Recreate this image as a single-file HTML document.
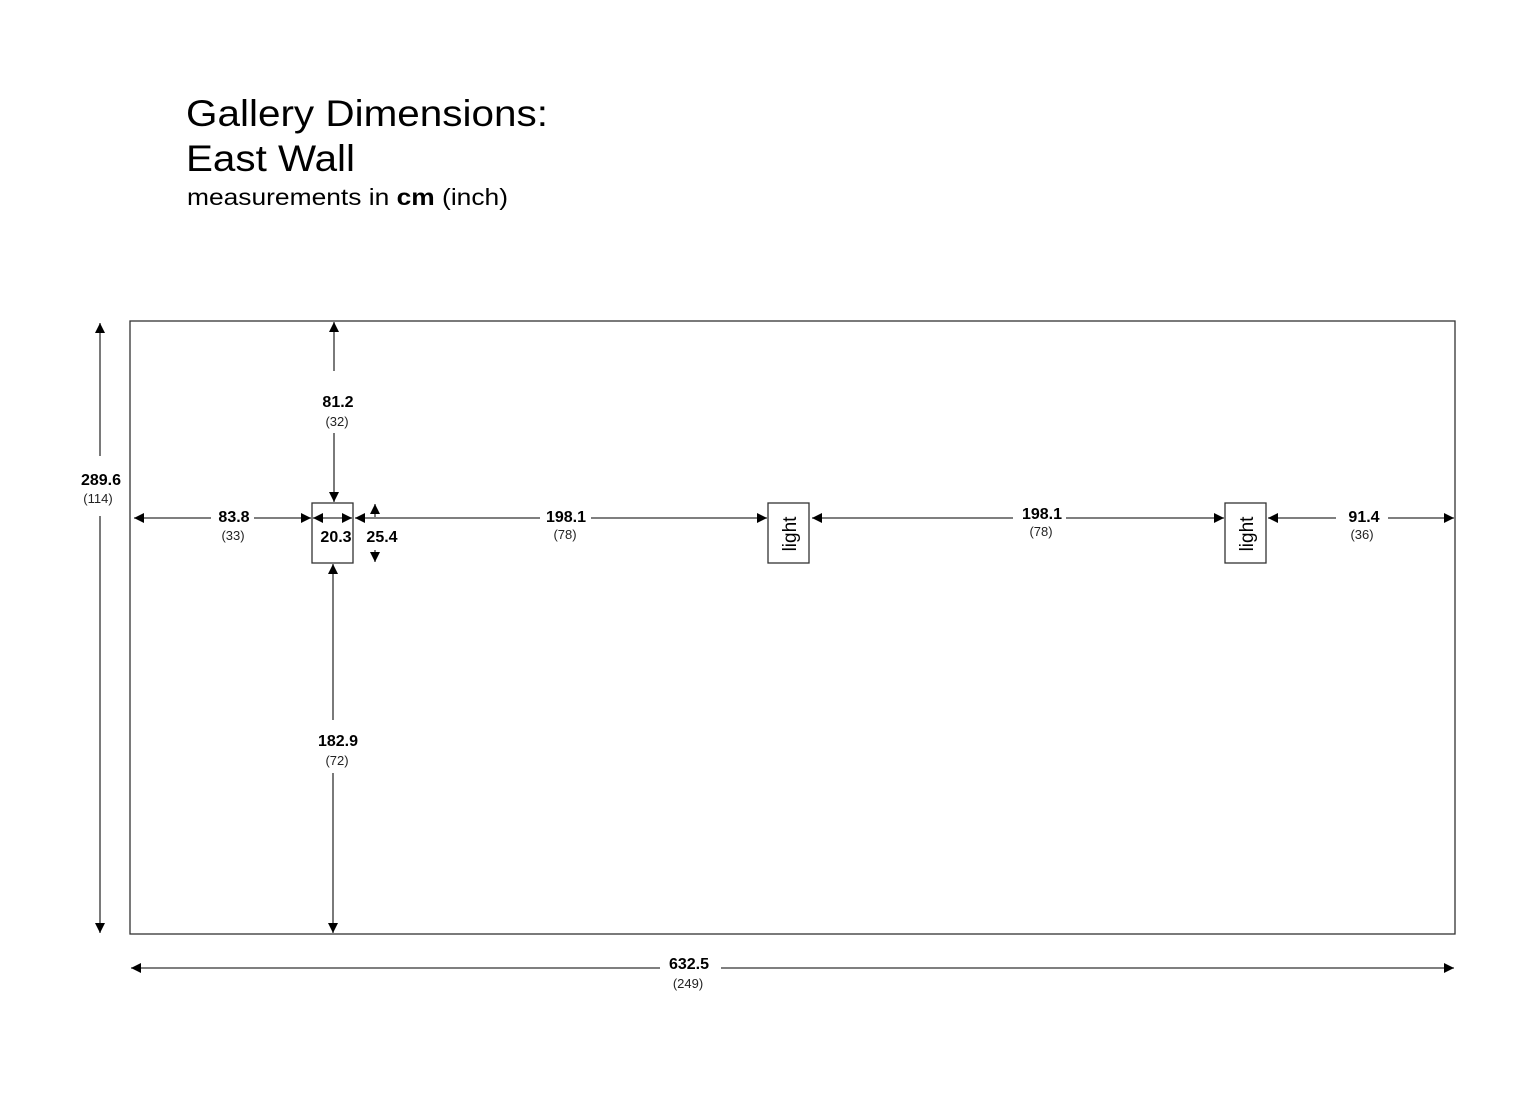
<!DOCTYPE html>
<html><head><meta charset="utf-8"><style>
html,body{margin:0;padding:0;background:#fff;}
svg{display:block;}
text{font-family:"Liberation Sans",Arial,sans-serif;fill:#000;}
.b{font-weight:bold;font-size:16px;}
.s{font-size:13px;fill:#222;}
</style></head><body>
<svg width="1536" height="1109" viewBox="0 0 1536 1109" xmlns="http://www.w3.org/2000/svg">
<defs>
<marker id="a" viewBox="0 0 10 10" refX="10" refY="5" markerWidth="10" markerHeight="10" markerUnits="userSpaceOnUse" orient="auto-start-reverse">
<path d="M0,0 L10,5 L0,10 z" fill="#000"/>
</marker>
</defs>
<text x="186" y="126" font-size="37" textLength="362" lengthAdjust="spacingAndGlyphs">Gallery Dimensions:</text>
<text x="186" y="171" font-size="37" textLength="169" lengthAdjust="spacingAndGlyphs">East Wall</text>
<text x="187" y="205" font-size="23" textLength="321" lengthAdjust="spacingAndGlyphs">measurements in <tspan font-weight="bold">cm</tspan> (inch)</text>

<g stroke="#333" stroke-width="1.3" fill="none">
<rect x="130" y="321" width="1325" height="613"/>
<rect x="312" y="503" width="41" height="60"/>
<rect x="768" y="503" width="41" height="60"/>
<rect x="1225" y="503" width="41" height="60"/>
</g>

<g stroke="#333" stroke-width="1.3" fill="none">
<!-- 289.6 -->
<line x1="100" y1="456" x2="100" y2="323" marker-end="url(#a)"/>
<line x1="100" y1="516" x2="100" y2="933" marker-end="url(#a)"/>
<!-- 81.2 -->
<line x1="334" y1="371" x2="334" y2="322" marker-end="url(#a)"/>
<line x1="334" y1="433" x2="334" y2="502" marker-end="url(#a)"/>
<!-- 182.9 -->
<line x1="333" y1="720" x2="333" y2="564" marker-end="url(#a)"/>
<line x1="333" y1="773" x2="333" y2="933" marker-end="url(#a)"/>
<!-- 83.8 -->
<line x1="211" y1="518" x2="134" y2="518" marker-end="url(#a)"/>
<line x1="254" y1="518" x2="311" y2="518" marker-end="url(#a)"/>
<!-- 20.3 -->
<line x1="313" y1="518" x2="352" y2="518" marker-start="url(#a)" marker-end="url(#a)"/>
<!-- 198.1 a -->
<line x1="540" y1="518" x2="355" y2="518" marker-end="url(#a)"/>
<line x1="591" y1="518" x2="767" y2="518" marker-end="url(#a)"/>
<!-- 198.1 b -->
<line x1="1013" y1="518" x2="812" y2="518" marker-end="url(#a)"/>
<line x1="1066" y1="518" x2="1224" y2="518" marker-end="url(#a)"/>
<!-- 91.4 -->
<line x1="1336" y1="518" x2="1268" y2="518" marker-end="url(#a)"/>
<line x1="1388" y1="518" x2="1454" y2="518" marker-end="url(#a)"/>
<!-- 25.4 -->
<line x1="375" y1="517" x2="375" y2="504" marker-end="url(#a)"/>
<line x1="375" y1="550" x2="375" y2="562" marker-end="url(#a)"/>
<!-- 632.5 -->
<line x1="660" y1="968" x2="131" y2="968" marker-end="url(#a)"/>
<line x1="721" y1="968" x2="1454" y2="968" marker-end="url(#a)"/>
</g>

<g text-anchor="middle">
<text class="b" x="101" y="485">289.6</text><text class="s" x="98" y="503">(114)</text>
<text class="b" x="338" y="407">81.2</text><text class="s" x="337" y="426">(32)</text>
<text class="b" x="338" y="746">182.9</text><text class="s" x="337" y="765">(72)</text>
<text class="b" x="234" y="522">83.8</text><text class="s" x="233" y="540">(33)</text>
<text class="b" x="336" y="542">20.3</text>
<text class="b" x="382" y="542">25.4</text>
<text class="b" x="566" y="522">198.1</text><text class="s" x="565" y="539">(78)</text>
<text class="b" x="1042" y="519">198.1</text><text class="s" x="1041" y="536">(78)</text>
<text class="b" x="1364" y="522">91.4</text><text class="s" x="1362" y="539">(36)</text>
<text class="b" x="689" y="969">632.5</text><text class="s" x="688" y="988">(249)</text>
<text font-size="19" transform="translate(796,534) rotate(-90)">light</text>
<text font-size="19" transform="translate(1253,534) rotate(-90)">light</text>
</g>
</svg>
</body></html>
